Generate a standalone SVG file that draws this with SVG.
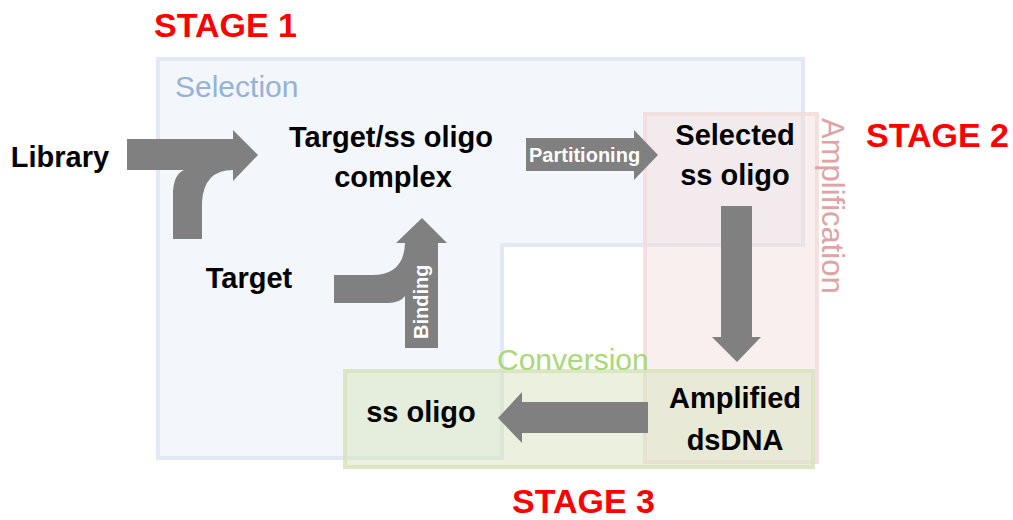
<svg xmlns="http://www.w3.org/2000/svg" width="1013" height="520" viewBox="0 0 1013 520">
<style>
.node{font-family:"Liberation Sans",Arial,sans-serif;font-weight:bold;font-size:29px;fill:#000;text-anchor:middle}
.stage{font-family:"Liberation Sans",Arial,sans-serif;font-weight:bold;font-size:34px;fill:#ff0000}
.region{font-family:"Liberation Sans",Arial,sans-serif;font-size:30px}
.lbl{font-family:"Liberation Sans",Arial,sans-serif;font-weight:bold;font-size:20px;fill:#fff}
.arrow{fill:#808080}
</style>
<rect width="1013" height="520" fill="#fff"/>
<g id="regions">
<path id="selection-box" d="M158,59 H803 V245 H502 V458 H158 Z" fill="#dce6f2" fill-opacity="0.35" stroke="#dce6f2" stroke-width="4" stroke-opacity="0.85"/>
<rect id="amplification-box" x="645" y="114" width="172" height="348" fill="#f2dcdb" fill-opacity="0.45" stroke="#f2dcdb" stroke-width="4" stroke-opacity="0.85"/>
<rect id="conversion-box" x="345" y="371" width="468" height="96" fill="#d7e4bd" fill-opacity="0.5" stroke="#d7e4bd" stroke-width="4" stroke-opacity="0.85"/>
<text class="region" x="175" y="97" fill="#95b3d7">Selection</text>
<text class="region" x="497" y="370" fill="#a9d878">Conversion</text>
<text class="region" transform="translate(822,118) rotate(90)" fill="#dea3a2" style="font-size:31px">Amplification</text>
</g>
<g id="stages">
<text class="stage" x="154" y="37">STAGE 1</text>
<text class="stage" x="866" y="147">STAGE 2</text>
<text class="stage" x="512" y="513">STAGE 3</text>
</g>
<g id="connectors">
<path class="arrow" d="M127,139 H233 V130 L258,155 L233,181 V170 Q204,170 202,202 V239 H173 V192 Q174,174 184,170 H127 Z"/>
<path class="arrow" d="M334,275 H372 Q404,275 405,243 H396 L422,218 L447,243 H438 V348 H405 V296 Q400,303 388,303 H334 Z"/>
<text class="lbl" transform="translate(428,339) rotate(-90)">Binding</text>
<path class="arrow" d="M526,138 H634 V130 L658,155 L634,180 V171 H526 Z"/>
<text class="lbl" x="529" y="162">Partitioning</text>
<path class="arrow" d="M721,206 H752 V337 H761 L737,362 L712,337 H721 Z"/>
<path class="arrow" d="M648,402 V433 H522 V443 L498,418 L522,392 V402 Z"/>
</g>
<g id="node-library"><text class="node" x="60" y="167">Library</text></g>
<g id="node-complex"><text class="node" x="391" y="147">Target/ss oligo</text><text class="node" x="393" y="187">complex</text></g>
<g id="node-selected"><text class="node" x="735" y="145">Selected</text><text class="node" x="735" y="185">ss oligo</text></g>
<g id="node-target"><text class="node" x="249" y="288">Target</text></g>
<g id="node-ssoligo"><text class="node" x="421" y="422">ss oligo</text></g>
<g id="node-amplified"><text class="node" x="735" y="408">Amplified</text><text class="node" x="735" y="450">dsDNA</text></g>
</svg>
